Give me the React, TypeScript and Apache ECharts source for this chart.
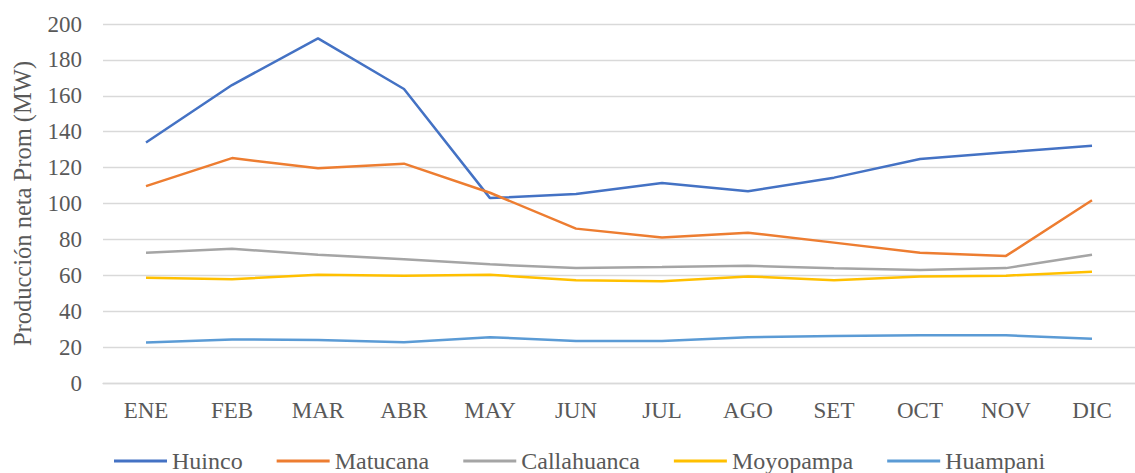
import React, { useEffect, useRef } from "react";
import * as echarts from "echarts";

const months = ["ENE", "FEB", "MAR", "ABR", "MAY", "JUN", "JUL", "AGO", "SET", "OCT", "NOV", "DIC"];
const huinco = [134, 166, 192, 163.8, 103, 105.3, 111.4, 106.8, 114.4, 124.8, 128.5, 132.2];
const matucana = [109.7, 125.3, 119.6, 122.2, 106, 86, 81, 83.7, 78.2, 72.5, 70.8, 101.8];
const callahuanca = [72.6, 74.8, 71.5, 69, 66.1, 64, 64.6, 65.3, 63.9, 63, 64, 71.5];
const moyopampa = [58.7, 57.8, 60.3, 59.8, 60.3, 57.2, 56.7, 59.4, 57.2, 59.4, 59.8, 62];
const huampani = [22.5, 24.3, 24, 22.7, 25.5, 23.4, 23.4, 25.5, 26.2, 26.6, 26.6, 24.7];

const seriesNames = ["Huinco", "Matucana", "Callahuanca", "Moyopampa", "Huampani"];
const seriesData = [huinco, matucana, callahuanca, moyopampa, huampani];
const colors = ["#4472C4", "#ED7D31", "#A5A5A5", "#FFC000", "#5B9BD5"];

const FONT = "'Liberation Serif', 'Times New Roman', serif";
const TXT = "#595959";
const serifText = { fontFamily: FONT, fontSize: 23, color: TXT };

export default function App() {
  const ref = useRef<HTMLDivElement>(null);
  useEffect(() => {
    if (!ref.current) return;
    const chart = echarts.init(ref.current, undefined, { renderer: "svg" });
    chart.setOption({
      animation: false,
      color: colors,
      textStyle: { fontFamily: FONT, fontSize: 23, color: TXT },
      grid: { left: 103, top: 24, width: 1045, bottom: 90, containLabel: false },
      legend: {
        left: 109,
        top: 444,
        icon: "rect",
        itemWidth: 53,
        itemHeight: 3,
        itemGap: 34,
        textStyle: { ...serifText, fontSize: 24 },
        data: seriesNames,
      },
      xAxis: {
        type: "category",
        data: months,
        boundaryGap: true,
        axisLine: { show: true, lineStyle: { color: "#D9D9D9", width: 1.3 } },
        axisTick: { show: false },
        axisLabel: { ...serifText, margin: 16 },
      },
      yAxis: {
        type: "value",
        min: 0,
        max: 200,
        interval: 20,
        name: "Producción neta Prom (MW)",
        nameLocation: "middle",
        nameGap: 68,
        nameTextStyle: { ...serifText, fontSize: 24.5 },
        axisLine: { show: false },
        axisTick: { show: false },
        axisLabel: { ...serifText, margin: 21 },
        splitLine: { lineStyle: { color: "#D9D9D9", width: 1.3 } },
      },
      series: seriesNames.map((n, i) => ({
        name: n,
        type: "line",
        data: seriesData[i],
        symbol: "none",
        lineStyle: { width: 2.5, color: colors[i] },
        itemStyle: { color: colors[i] },
      })),
    });
    return () => chart.dispose();
  }, []);
  return (
    <div
      ref={ref}
      style={{ position: "fixed", left: 0, top: 0, width: 1135, height: 473, background: "#fff" }}
    />
  );
}
